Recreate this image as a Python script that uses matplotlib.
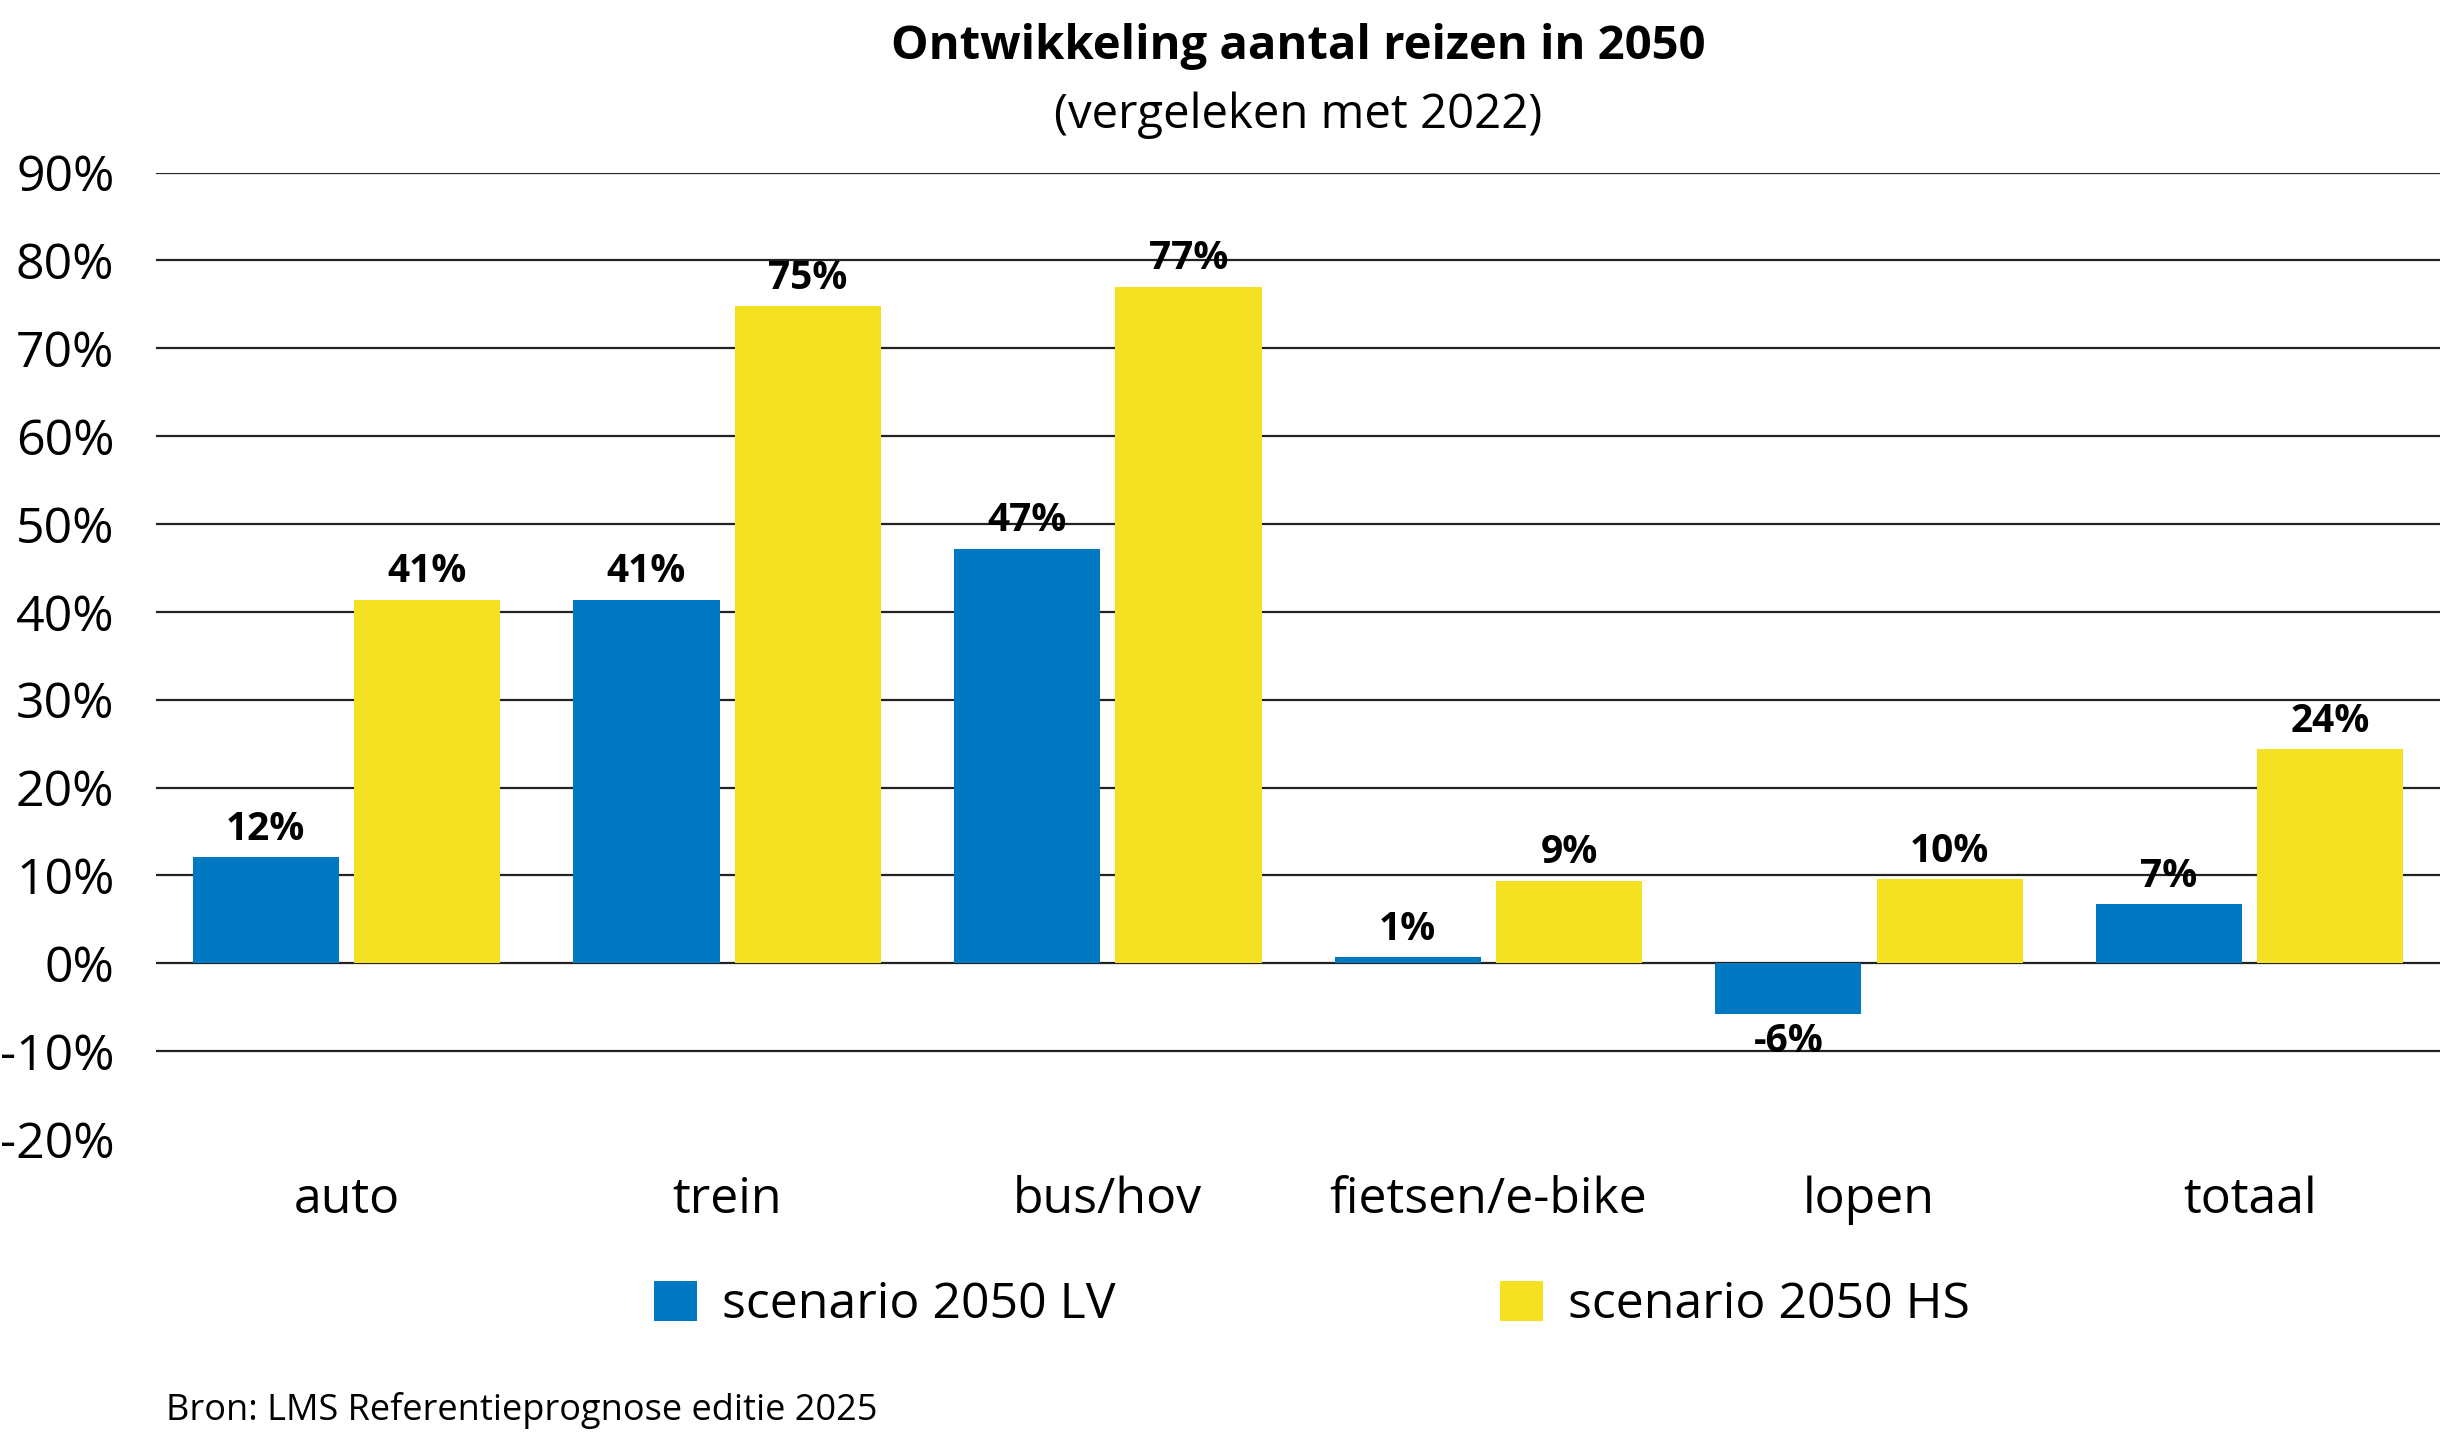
import matplotlib
matplotlib.use("Agg")
import matplotlib.pyplot as plt
import numpy as np

plt.rcParams['font.family'] = ['Open Sans', 'DejaVu Sans']

# data
categories = ["auto", "trein", "bus/hov", "fietsen/e-bike", "lopen", "totaal"]
lv_values = [12.1, 41.4, 47.2, 0.7, -5.8, 6.7]
hs_values = [41.4, 74.8, 77.0, 9.4, 9.6, 24.4]
series_names = ["scenario 2050 LV", "scenario 2050 HS"]
y_ticks = [-20, -10, 0, 10, 20, 30, 40, 50, 60, 70, 80, 90]

blue = "#0079c2"
yellow = "#f4e121"

fig = plt.figure(figsize=(12.2, 7.19), dpi=200)
ax = fig.add_axes([0.064, 0.208, 0.936, 0.672])

x = np.arange(len(categories))
w = 0.384
off = 0.212
b1 = ax.bar(x - off, lv_values, w, color=blue, zorder=3, label=series_names[0])
b2 = ax.bar(x + off, hs_values, w, color=yellow, zorder=3, label=series_names[1])

for bars in (b1, b2):
    ax.bar_label(bars, fmt="{:.0f}%", padding=3, fontsize=14, fontweight="bold")

ax.set_xlim(-0.5, len(categories) - 0.5)
ax.set_ylim(-20, 90)
ax.set_yticks(y_ticks)
ax.set_yticklabels([f"{t}%" for t in y_ticks])
ax.set_xticks(x)
ax.set_xticklabels(categories)
ax.tick_params(axis="y", length=0, pad=15, labelsize=18)
ax.tick_params(axis="x", length=0, pad=13, labelsize=18)

ax.grid(axis="y", color="#222222", linewidth=0.8, zorder=0)
ax.set_axisbelow(True)
ax.yaxis.get_gridlines()[0].set_visible(False)
for s in ax.spines.values():
    s.set_visible(False)

fig.text(0.532, 0.968, "Ontwikkeling aantal reizen in 2050", ha="center", va="center",
         fontsize=17, fontweight="bold")
fig.text(0.532, 0.920, "(vergeleken met 2022)", ha="center", va="center", fontsize=17)

fig.legend(loc="center left", bbox_to_anchor=(0.268, 0.092), ncol=2, frameon=False,
           fontsize=18, handlelength=0.86, handleheight=0.86, handletextpad=0.5,
           columnspacing=7.7, borderpad=0, borderaxespad=0)

fig.text(0.068, 0.019, "Bron: LMS Referentieprognose editie 2025", ha="left", va="center",
         fontsize=13)

fig.savefig("out.png", dpi=200)
